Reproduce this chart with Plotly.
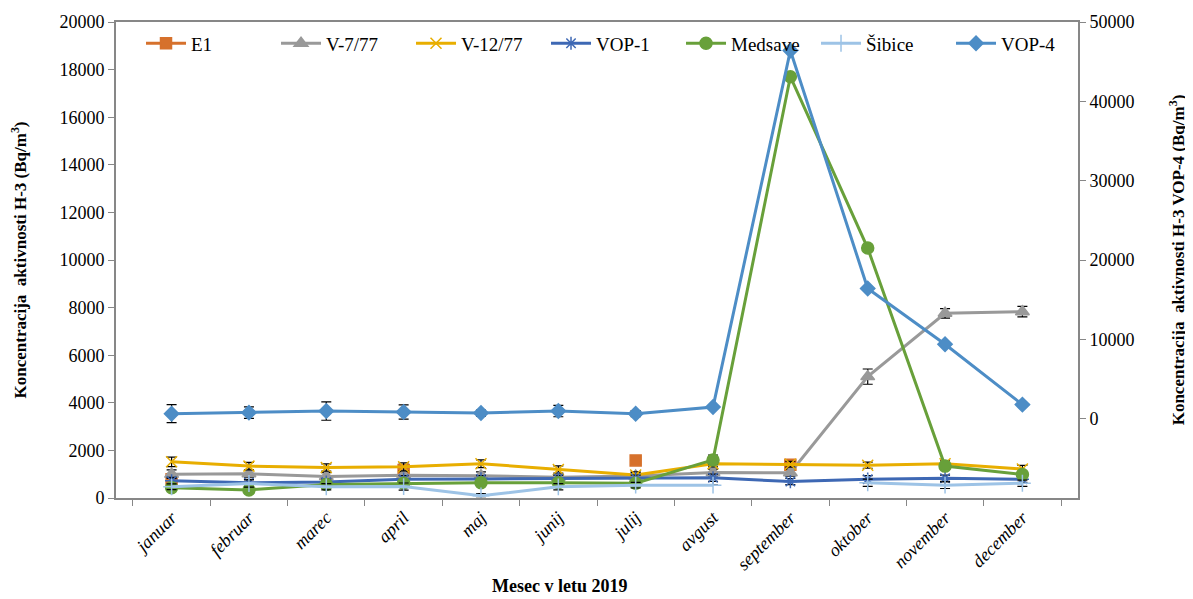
import plotly.graph_objects as go

months = ['januar', 'februar', 'marec', 'april', 'maj', 'junij', 'julij',
          'avgust', 'september', 'oktober', 'november', 'december']

# left axis series (Bq/m3)
e1 = [790, None, None, 1180, None, None, 1580, None, 1400, None, None, None]
e1_err = [150, 0, 0, 150, 0, 0, 0, 0, 120, 0, 0, 0]
v7 = [1000, 1020, 900, 960, 940, 870, 920, 1070, 1060, 5100, 7760, 7830]
v7_err = [180, 150, 170, 150, 160, 130, 150, 140, 150, 320, 200, 220]
v12 = [1520, 1340, 1280, 1310, 1440, 1200, 970, 1440, 1420, 1380, 1440, 1220]
v12_err = [200, 160, 150, 170, 160, 150, 130, 130, 120, 130, 120, 150]
vop1 = [720, 640, 670, 790, 800, 820, 830, 850, 690, 790, 830, 790]
vop1_err = [150, 140, 130, 150, 140, 130, 130, 150, 130, 150, 130, 130]
medsave = [430, 340, 570, 620, 640, 640, 620, 1600, 17700, 10500, 1340, 990]
medsave_err = [120, 110, 120, 130, 120, 120, 120, 200, 0, 0, 120, 120]
sibice = [470, 610, 470, 480, 90, 470, 540, 540, None, 640, 540, 620]
sibice_err = [120, 150, 130, 150, 100, 130, 120, 0, 0, 150, 140, 130]

# right axis series (VOP-4)
vop4 = [630, 760, 960, 830, 710, 960, 630, 1470, 46400, 16400, 9380, 1770]
vop4_err = [1140, 730, 1160, 900, 380, 720, 380, 0, 0, 0, 0, 0]

font_fam = "Liberation Serif, Times New Roman, serif"
axis_col = "#878787"

fig = go.Figure()

def add(name, y, err, color, symbol, size, yaxis="y", lw=3):
    fig.add_trace(go.Scatter(
        x=months, y=y, name=name, yaxis=yaxis, mode="lines+markers",
        line=dict(color=color, width=lw),
        marker=dict(symbol=symbol, size=size, color=color,
                    line=dict(color=color, width=1.5)),
        error_y=dict(type="data", array=err, color="black", thickness=1.2, width=5),
        connectgaps=False,
    ))

add("E1", e1, e1_err, "#D6712C", "square", 11)
add("V-7/77", v7, v7_err, "#999999", "triangle-up", 12)
add("V-12/77", v12, v12_err, "#E8AE00", "x-thin-open", 11)
add("VOP-1", vop1, vop1_err, "#3E68B4", "asterisk-open", 11)
add("Medsave", medsave, medsave_err, "#68A03A", "circle", 12)
add("Šibice", sibice, sibice_err, "#9DC3E6", "cross-thin-open", 12)
add("VOP-4", vop4, vop4_err, "#4D8DC6", "diamond", 11, yaxis="y2")

# page body has an 8px margin, so the figure is a bit smaller than the window
fig.update_layout(
    width=1185, height=591,
    margin=dict(l=108, r=115, t=14, b=101),
    plot_bgcolor="white", paper_bgcolor="white",
    font=dict(family=font_fam, size=18, color="black"),
    showlegend=True,
    legend=dict(orientation="h", x=0.026, y=0.995, xanchor="left", yanchor="top",
                font=dict(family=font_fam, size=19), bgcolor="rgba(0,0,0,0)",
                itemwidth=40, entrywidthmode="pixels", entrywidth=80),
    xaxis=dict(showline=True, linecolor=axis_col, linewidth=2, mirror=True,
               ticks="outside", tickson="boundaries", ticklen=6, tickcolor=axis_col,
               tickangle=-45, showgrid=False, automargin=False,
               tickfont=dict(family=font_fam, size=18, style="italic")),
    yaxis=dict(range=[0, 20000], dtick=2000, tickformat="d", showline=True,
               linecolor=axis_col, linewidth=2, automargin=False,
               ticks="outside", ticklen=6, tickcolor=axis_col, showgrid=False, zeroline=False,
               tickfont=dict(family=font_fam, size=18),
               title=dict(text="<b>Koncentracija  aktivnosti H-3 (Bq/m<sup>3</sup>)</b>",
                          font=dict(family=font_fam, size=17), standoff=28)),
    yaxis2=dict(range=[-10000, 50000], tickvals=[0, 10000, 20000, 30000, 40000, 50000],
                tickformat="d", automargin=False,
                overlaying="y", side="right", showline=True, linecolor=axis_col, linewidth=2,
                ticks="outside", ticklen=6, tickcolor=axis_col, showgrid=False, zeroline=False,
                tickfont=dict(family=font_fam, size=18),
                title=dict(text="<b>Koncentracija  aktivnosti H-3 VOP-4 (Bq/m<sup>3</sup>)</b>",
                           font=dict(family=font_fam, size=17), standoff=39)),
    annotations=[dict(text="<b>Mesec v letu 2019</b>", xref="paper", yref="paper",
                      x=0.4605, y=-0.16, xanchor="center", yanchor="top",
                      showarrow=False, font=dict(family=font_fam, size=18))],
)

fig.write_html("out.html")
